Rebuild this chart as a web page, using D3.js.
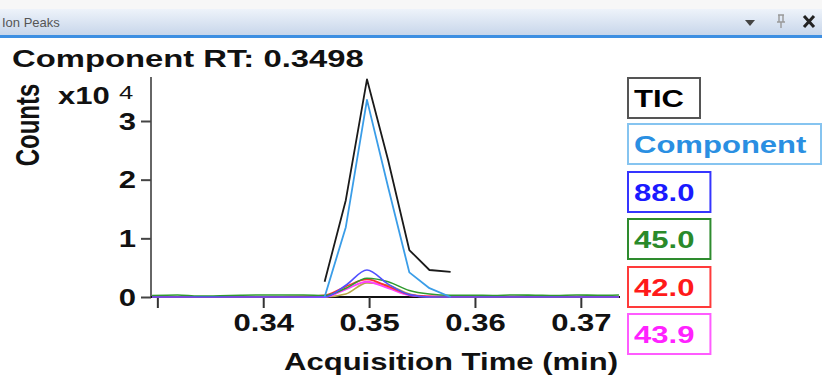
<!DOCTYPE html>
<html>
<head>
<meta charset="utf-8">
<script src="https://cdn.jsdelivr.net/npm/d3@7/dist/d3.min.js"></script>
<style>
  html, body { margin: 0; padding: 0; background: #fff; }
  svg { display: block; font-family: "Liberation Sans", Arial, sans-serif; }
</style>
</head>
<body>
<svg id="chart" width="822" height="377"></svg>
<script>
// Scan times (min) for the extracted ion chromatograms
const scanTimes = [0.3295, 0.3319, 0.3339, 0.3359, 0.3379, 0.3398, 0.3418, 0.3438,
                   0.3458, 0.3478, 0.3498, 0.3518, 0.3538, 0.3557, 0.3577, 0.3597,
                   0.3617, 0.3637, 0.3657, 0.3676, 0.3696, 0.3716, 0.3736];
// Scan times across the component window
const peakTimes = [0.3458, 0.3478, 0.3498, 0.3518, 0.3538, 0.3557, 0.3577];

// Counts
const ticCounts       = [2600, 16500, 37100, 23300, 8000, 4600, 4300];
const componentCounts = [0, 11900, 33600, 18700, 4200, 1500, 0];

const ion880 = [0, 0, 0, 0, 0, 0, 0, 0, 0, 2000, 4600, 2200, 400, 0, 0, 0, 0, 0, 0, 0, 0, 0, 0];
const ion450 = [250, 350, 150, 200, 300, 350, 350, 350, 250, 1500, 3200, 2600, 1100, 500, 300, 300, 250, 350, 300, 250, 350, 300, 350];
const ion420 = [0, 0, 0, 0, 0, 0, 50, 100, 300, 1800, 3000, 1800, 400, 100, 0, 0, 0, 0, 0, 0, 0, 0, 0];
const ion439 = [0, 0, 0, 0, 0, 0, 0, 0, 0, 1300, 2600, 1500, 300, 100, 100, 100, 100, 100, 100, 100, 100, 0, 0];
const ionOther = [0, 0, 0, 0, 0, 0, 0, 0, 0, 500, 2400, 2000, 500, 0, 0, 0, 0, 0, 0, 0, 0, 0, 0];

const legendLabels = ["TIC", "Component", "88.0", "45.0", "42.0", "43.9"];
const legendStroke = ["#555555", "#86c4f0", "#3535ff", "#2e8b2e", "#ff3a3a", "#ff5cff"];
const legendText   = ["#000000", "#2a8fe2", "#1a1aff", "#2a8a2a", "#ff1a1a", "#ff22ff"];

const xTickValues = [0.33, 0.34, 0.35, 0.36, 0.37];
const xTickLabels = ["", "0.34", "0.35", "0.36", "0.37"];
const yTickValues = [0, 10000, 20000, 30000];

const SX = 1.35; // horizontal stretch applied to glyphs
const W = 822, H = 377;
const svg = d3.select("#chart");

// ---- panel title bar ----
const defs = svg.append("defs");
const grad = defs.append("linearGradient").attr("id", "barGrad")
  .attr("x1", 0).attr("y1", 0).attr("x2", 0).attr("y2", 1);
grad.append("stop").attr("offset", "0%").attr("stop-color", "#eef3fa");
grad.append("stop").attr("offset", "100%").attr("stop-color", "#c6d5ea");

svg.append("rect").attr("x", 0).attr("y", 0).attr("width", W).attr("height", 10).attr("fill", "#f7f7f7");
svg.append("rect").attr("x", 0).attr("y", 9).attr("width", W).attr("height", 27).attr("fill", "url(#barGrad)");
svg.append("rect").attr("x", 0).attr("y", 35).attr("width", W).attr("height", 3).attr("fill", "#3d8fe2");
svg.append("text").attr("x", 2).attr("y", 27).attr("font-size", 13).attr("fill", "#555")
  .text("Ion Peaks");
// window buttons
svg.append("path").attr("d", "M745,20 L755,20 L750,26 Z").attr("fill", "#444");
svg.append("path").attr("d", "M778,15 L784,15 M779,15 L779,22 M783,15 L783,22 M777,22 L785,22 M781,22 L781,28")
  .attr("stroke", "#999").attr("stroke-width", 1.4).attr("fill", "none");
svg.append("path").attr("d", "M804,16 L814,27 M814,16 L804,27")
  .attr("stroke", "#222").attr("stroke-width", 3).attr("fill", "none");

function stretched(parent, x, y, str, size, opts = {}) {
  return parent.append("text")
    .attr("transform", `translate(${x},${y}) scale(${SX},1)`)
    .attr("font-size", size)
    .attr("font-weight", opts.weight || "bold")
    .attr("fill", opts.fill || "#111")
    .attr("text-anchor", opts.anchor || "start")
    .text(str);
}

// ---- chart title ----
stretched(svg, 12, 67, "Component RT: 0.3498", 24.3);

// ---- scales ----
const x = d3.scaleLinear().domain([0.3294, 0.3737]).range([151, 620]);
const y = d3.scaleLinear().domain([0, 37500]).range([297, 77]);

// ---- axes ----
const yAxis = svg.append("g").attr("transform", "translate(151,0)")
  .call(d3.axisLeft(y).tickValues(yTickValues).tickSize(10).tickPadding(0)
    .tickFormat(d => String(d / 10000)));
yAxis.select(".domain").attr("stroke", "#666").attr("stroke-width", 2).attr("d", `M0,${y(0)}V77`);
yAxis.selectAll(".tick line").attr("stroke", "#444").attr("stroke-width", 2);
yAxis.selectAll(".tick text")
  .attr("x", -15 / SX).attr("dy", "0.35em")
  .attr("transform", `scale(${SX},1)`)
  .attr("font-size", 23).attr("font-weight", "bold").attr("fill", "#111")
  .attr("font-family", "Liberation Sans, Arial, sans-serif");

const xAxis = svg.append("g").attr("transform", `translate(0,${y(0)})`)
  .call(d3.axisBottom(x).tickValues(xTickValues).tickSize(11).tickPadding(7)
    .tickFormat((d, i) => xTickLabels[i]));
xAxis.select(".domain").attr("stroke", "#111").attr("stroke-width", 2).attr("d", "M151,0H620");
xAxis.selectAll(".tick line").attr("stroke", "#333").attr("stroke-width", 2);
xAxis.selectAll(".tick text")
  .attr("transform", `scale(${SX},1)`)
  .attr("font-size", 23).attr("font-weight", "bold").attr("fill", "#111")
  .attr("font-family", "Liberation Sans, Arial, sans-serif");

// exponent and axis titles
stretched(svg, 58, 104, "x10", 23);
stretched(svg, 119, 99, "4", 19, { weight: "normal" });
svg.append("text")
  .attr("transform", `translate(39,125) rotate(-90) scale(1,${SX})`)
  .attr("font-size", 24).attr("font-weight", "bold").attr("fill", "#111")
  .attr("text-anchor", "middle").text("Counts");
stretched(svg, 451, 370, "Acquisition Time (min)", 23, { anchor: "middle" });

// ---- traces ----
const polyline = d3.line().x(d => x(d[0])).y(d => y(d[1]));
const smooth = d3.line().x(d => x(d[0])).y(d => y(d[1])).curve(d3.curveMonotoneX);
const plot = svg.append("g").attr("fill", "none").attr("stroke-linejoin", "round");

function trace(times, values, color, width, gen) {
  plot.append("path")
    .datum(times.map((t, i) => [t, values[i]]))
    .attr("d", gen)
    .attr("stroke", color)
    .attr("stroke-width", width);
}

trace(scanTimes, ionOther, "#b8a848", 1.6, smooth);
trace(scanTimes, ion439, "#ff40ff", 1.8, smooth);
trace(scanTimes, ion420, "#ff3030", 1.6, smooth);
trace(scanTimes, ion450, "#2f9a2f", 1.6, smooth);
trace(scanTimes, ion880, "#5050ff", 1.6, smooth);
trace(peakTimes, componentCounts, "#3a9de8", 1.8, polyline);
trace(peakTimes, ticCounts, "#1a1a1a", 1.8, polyline);

// ---- legend ----
const legendTop = [78, 124, 172, 219, 267, 314];
const legend = svg.append("g");
legendLabels.forEach((lab, i) => {
  const g = legend.append("g");
  const box = g.append("rect")
    .attr("x", 628).attr("y", legendTop[i]).attr("height", 40)
    .attr("fill", "#fff").attr("stroke", legendStroke[i]).attr("stroke-width", 2);
  const t = stretched(g, 634, legendTop[i] + 29, lab, 23, { fill: legendText[i] });
  const w = t.node().getBBox().width * SX;
  box.attr("width", Math.min(w + 22, 193));
});
</script>
</body>
</html>
